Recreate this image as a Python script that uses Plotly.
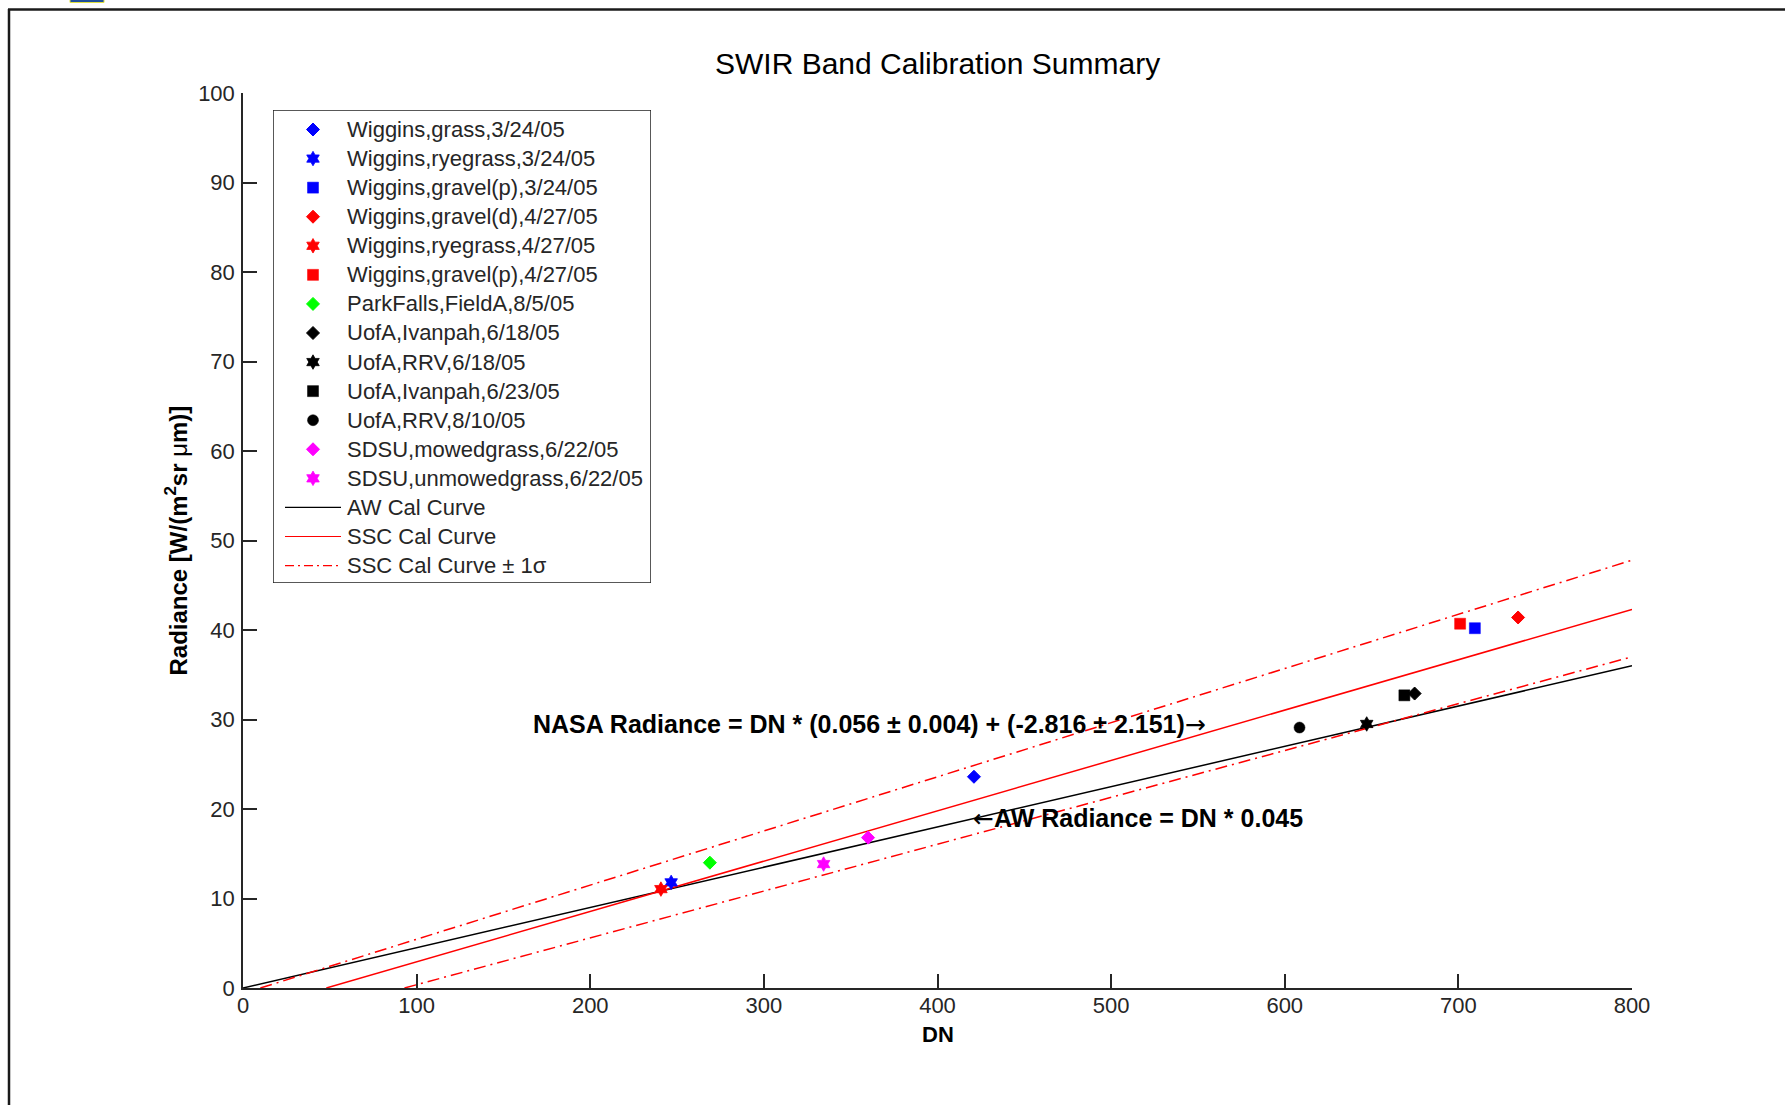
import plotly.graph_objects as go

# ---------------- data ----------------
series_names = [
    "Wiggins,grass,3/24/05", "Wiggins,ryegrass,3/24/05", "Wiggins,gravel(p),3/24/05",
    "Wiggins,gravel(d),4/27/05", "Wiggins,ryegrass,4/27/05", "Wiggins,gravel(p),4/27/05",
    "ParkFalls,FieldA,8/5/05", "UofA,Ivanpah,6/18/05", "UofA,RRV,6/18/05",
    "UofA,Ivanpah,6/23/05", "UofA,RRV,8/10/05", "SDSU,mowedgrass,6/22/05",
    "SDSU,unmowedgrass,6/22/05",
]
dn_values = [421.0, 246.6, 709.5, 734.4, 240.7, 701.0, 268.9, 674.8, 647.2, 668.9, 608.5, 360.0, 334.4]
radiance_values = [23.6, 11.8, 40.2, 41.4, 11.05, 40.7, 14.0, 32.9, 29.5, 32.7, 29.1, 16.8, 13.85]
series_colors = ["#0000FF", "#0000FF", "#0000FF", "#FF0000", "#FF0000", "#FF0000", "#00FF00",
                 "#000000", "#000000", "#000000", "#000000", "#FF00FF", "#FF00FF"]
series_symbols = ["diamond", "hexagram", "square", "diamond", "hexagram", "square",
                  "diamond", "diamond", "hexagram", "square", "circle",
                  "diamond", "hexagram"]

curve_names = ["AW Cal Curve", "SSC Cal Curve", "SSC Cal Curve \u00b1 1\u03c3"]
aw_x = [0, 800]
aw_y = [0, 36.0]
ssc_x = [48, 800]
ssc_y = [0, 42.3]
ssc_up_x = [10, 800]
ssc_up_y = [0, 47.8]
ssc_lo_x = [93, 800]
ssc_lo_y = [0, 37.0]

x_ticks = [0, 100, 200, 300, 400, 500, 600, 700, 800]
y_ticks = [0, 10, 20, 30, 40, 50, 60, 70, 80, 90, 100]

ARROW = '<span style="font-family:DejaVu Sans;font-weight:normal">{}</span>'
title_text = "SWIR Band Calibration Summary"
xlabel_text = "<b>DN</b>"
ylabel_text = "<b>Radiance [W/(m<sup>2</sup>sr </b>\u03bc<b>m)]</b>"
nasa_text = ("<b>NASA Radiance = DN * (0.056 \u00b1 0.004) + (-2.816 \u00b1 2.151)</b>"
             + ARROW.format("\u2192"))
aw_text = ARROW.format("\u2190") + "<b>AW Radiance = DN * 0.045</b>"

# ---------------- layout geometry (pixels) ----------------
W, H = 1785, 1105
L, R, T, B = 243, 1632, 93, 988
pw, ph = R - L, B - T
FONT = "Liberation Sans, Arial, Helvetica, sans-serif"
AXC = "#262626"

def px(xp):
    return (xp - L) / pw

def py(yp):
    return (B - yp) / ph

def marker_style(sym, col):
    sizes = {"diamond": 10, "hexagram": 11, "square": 11, "circle": 11}
    lw = {"diamond": 1, "hexagram": 0.8, "square": 0.5, "circle": 0.5}
    return dict(symbol=sym, color=col, size=sizes[sym],
                line=dict(color=col, width=lw[sym]))

fig = go.Figure()

# calibration curves
fig.add_trace(go.Scatter(x=aw_x, y=aw_y, mode="lines", name=curve_names[0],
                         line=dict(color="#000000", width=1.5), showlegend=False))
fig.add_trace(go.Scatter(x=ssc_x, y=ssc_y, mode="lines", name=curve_names[1],
                         line=dict(color="#FF0000", width=1.5), showlegend=False))
fig.add_trace(go.Scatter(x=ssc_up_x, y=ssc_up_y, mode="lines", name=curve_names[2],
                         line=dict(color="#FF0000", width=1.5, dash="12px,5px,2px,5px"),
                         showlegend=False))
fig.add_trace(go.Scatter(x=ssc_lo_x, y=ssc_lo_y, mode="lines", name=curve_names[2],
                         line=dict(color="#FF0000", width=1.5, dash="12px,5px,2px,5px"),
                         showlegend=False))

# data points
for n, xv, yv, c, s in zip(series_names, dn_values, radiance_values, series_colors, series_symbols):
    fig.add_trace(go.Scatter(x=[xv], y=[yv], mode="markers", name=n,
                             marker=marker_style(s, c), showlegend=False))

# ---------------- manual legend on an overlay axis ----------------
LB_L, LB_R, LB_T, LB_B = 273, 651, 110, 583
row0, row_gap = 19.5, 29.07
for i, (n, c, s) in enumerate(zip(series_names, series_colors, series_symbols)):
    fig.add_trace(go.Scatter(x=[40], y=[row0 + i * row_gap], mode="markers",
                             marker=marker_style(s, c), xaxis="x2", yaxis="y2",
                             showlegend=False, hoverinfo="skip"))
line_styles = [dict(color="#000000", width=1.2), dict(color="#FF0000", width=1.2),
               dict(color="#FF0000", width=1.2, dash="9px,4px,2px,4px")]
for j, (n, st) in enumerate(zip(curve_names, line_styles)):
    yy = row0 + (len(series_names) + j) * row_gap
    fig.add_trace(go.Scatter(x=[12, 68], y=[yy, yy], mode="lines", line=st,
                             xaxis="x2", yaxis="y2", showlegend=False, hoverinfo="skip"))

annotations = []
all_labels = series_names + curve_names
for i, n in enumerate(all_labels):
    annotations.append(dict(x=72, y=row0 + i * row_gap, xref="x2", yref="y2", text=n,
                            showarrow=False, xanchor="left", yanchor="middle",
                            font=dict(family=FONT, size=22, color=AXC)))

# axis titles and equation labels
annotations.append(dict(x=400, y=py(1034), xref="x", yref="paper", text=xlabel_text,
                        showarrow=False, xanchor="center", yanchor="middle",
                        font=dict(family=FONT, size=22, color="#000000")))
annotations.append(dict(x=px(176), y=py(475 * 1105 / 971), xref="paper", yref="paper",
                        text=ylabel_text,
                        showarrow=False, textangle=-90, xanchor="center", yanchor="middle",
                        font=dict(family=FONT, size=24, color="#000000")))
annotations.append(dict(x=166, y=29.4, xref="x", yref="y", text=nasa_text,
                        showarrow=False, xanchor="left", yanchor="middle",
                        font=dict(family=FONT, size=25, color="#000000")))
annotations.append(dict(x=419.5, y=18.9, xref="x", yref="y", text=aw_text,
                        showarrow=False, xanchor="left", yanchor="middle",
                        font=dict(family=FONT, size=25, color="#000000")))
annotations.append(dict(x=0.5, y=py(64), xref="paper", yref="paper", text=title_text,
                        showarrow=False, xanchor="center", yanchor="middle",
                        font=dict(family=FONT, size=30, color="#000000")))

shapes = [
    # legend box
    dict(type="rect", xref="x2", yref="y2", x0=0, x1=LB_R - LB_L, y0=0, y1=LB_B - LB_T,
         line=dict(color="#222222", width=1.5), fillcolor="rgba(0,0,0,0)", layer="below"),
    # outer frame (left and top edges)
    dict(type="line", xref="paper", yref="paper", x0=px(9), x1=px(9), y0=py(1110), y1=py(9),
         line=dict(color="#1a1a1a", width=2.5)),
    dict(type="line", xref="paper", yref="paper", x0=px(8), x1=px(1790), y0=py(9.5), y1=py(9.5),
         line=dict(color="#1a1a1a", width=2.5)),
    # small logo fragment at top-left
    dict(type="rect", xref="paper", yref="paper", x0=px(70), x1=px(104), y0=py(2.5), y1=py(-2),
         line=dict(color="#e0e040", width=1), fillcolor="#1f4f9a"),
]

axis_common = dict(showgrid=False, zeroline=False, showline=True, linecolor=AXC, linewidth=1.5,
                   ticks="inside", ticklen=14, tickwidth=1.5, tickcolor=AXC, mirror=False,
                   tickfont=dict(family=FONT, size=22, color=AXC))

fig.update_layout(
    width=W, height=H,
    margin=dict(l=L, r=W - R, t=T, b=H - B),
    paper_bgcolor="white", plot_bgcolor="white",
    showlegend=False,
    font=dict(family=FONT, color=AXC),
    xaxis=dict(range=[0, 800], tickvals=x_ticks, ticktext=[str(v) for v in x_ticks],
               ticklabelstandoff=-3, **axis_common),
    yaxis=dict(range=[0, 100], tickvals=y_ticks, ticktext=[str(v) for v in y_ticks],
               ticklabelstandoff=2, **axis_common),
    xaxis2=dict(domain=[px(LB_L), px(LB_R)], range=[0, LB_R - LB_L], anchor="y2",
                visible=False, fixedrange=True),
    yaxis2=dict(domain=[py(LB_B), py(LB_T)], range=[LB_B - LB_T, 0], anchor="x2",
                visible=False, fixedrange=True),
    annotations=annotations,
    shapes=shapes,
)

fig.write_html("out.html")
